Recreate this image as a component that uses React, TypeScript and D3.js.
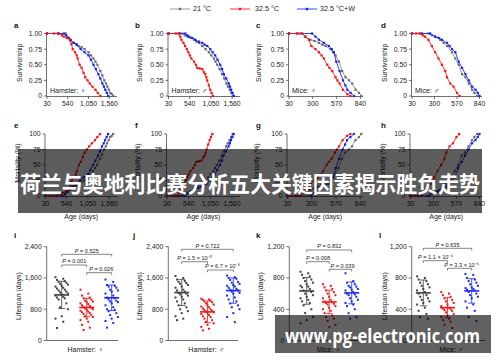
import React from 'react';
import * as d3 from 'd3';

type Pt = [number, number];

const SERIES_NAMES = ['21 °C', '32.5 °C', '32.5 °C+W'];
const LINE_COLORS = ['#8f8f8f', '#ff2020', '#2030ff'];
const MARK_COLORS = ['#6a6a6a', '#ff1010', '#1020ff'];
const DOT_COLORS = ['#404040', '#f01818', '#1a28f0'];

const HAMSTER_DAY_TICKS = [30, 540, 1050, 1560];
const MICE_DAY_TICKS = [30, 300, 570, 840];
const SURV_TICKS = [0, 0.25, 0.5, 0.75, 1];
const MORT_TICKS = [0, 25, 50, 75, 100];
const HAMSTER_LIFE_TICKS = [0, 800, 1600, 2400];
const MICE_LIFE_TICKS = [0, 400, 800, 1200];

const GROUP_LABELS = ['Hamster: ♀', 'Hamster: ♂', 'Mice: ♀', 'Mice: ♂'];

// ---- survival (fraction alive) per panel: [age in days, survivorship]
const hamF_21: Pt[] = [[30,1],[300,1],[492,1],[560,0.93],[613,0.88],[686,0.85],[750,0.83],[807,0.8],[880,0.78],[953,0.75],[1050,0.7],[1110,0.65],[1172,0.6],[1220,0.55],[1269,0.5],[1342,0.4],[1390,0.33],[1439,0.25],[1480,0.2],[1512,0.15],[1550,0.1],[1585,0.05],[1620,0.03],[1657,0]];
const hamF_32: Pt[] = [[30,1],[200,1],[321,1],[400,0.97],[443,0.95],[520,0.93],[589,0.9],[630,0.83],[662,0.75],[720,0.7],[760,0.65],[783,0.6],[832,0.5],[880,0.45],[929,0.37],[970,0.3],[1026,0.25],[1080,0.2],[1147,0.15],[1220,0.1],[1276,0.05],[1342,0]];
const hamF_32W: Pt[] = [[30,1],[300,1],[443,1],[500,0.97],[560,0.93],[613,0.9],[686,0.85],[760,0.82],[856,0.75],[950,0.7],[1050,0.65],[1110,0.58],[1172,0.5],[1230,0.43],[1293,0.35],[1340,0.28],[1390,0.2],[1430,0.15],[1463,0.1],[1500,0.05],[1536,0]];

const hamM_21: Pt[] = [[30,1],[250,1],[365,1],[420,0.97],[484,0.95],[560,0.93],[644,0.9],[700,0.87],[764,0.85],[840,0.8],[921,0.75],[1003,0.7],[1060,0.65],[1122,0.6],[1160,0.55],[1201,0.5],[1260,0.43],[1321,0.35],[1370,0.28],[1423,0.2],[1460,0.15],[1505,0.1],[1540,0.05],[1576,0]];
const hamM_32: Pt[] = [[30,1],[200,1],[286,1],[315,0.95],[341,0.9],[390,0.85],[429,0.8],[470,0.75],[508,0.7],[545,0.65],[580,0.6],[644,0.55],[690,0.5],[723,0.45],[780,0.44],[843,0.43],[880,0.38],[914,0.35],[940,0.3],[962,0.25],[1000,0.17],[1034,0.1],[1065,0.05],[1098,0]];
const hamM_32W: Pt[] = [[30,1],[300,1],[436,1],[480,0.97],[525,0.95],[600,0.93],[675,0.9],[760,0.87],[843,0.85],[900,0.82],[962,0.8],[1034,0.75],[1090,0.7],[1153,0.65],[1210,0.58],[1273,0.5],[1320,0.43],[1361,0.35],[1420,0.28],[1481,0.2],[1510,0.15],[1536,0.1],[1570,0.05],[1600,0]];

const miceF_21: Pt[] = [[30,1],[120,1],[178,1],[216,0.95],[273,0.9],[320,0.88],[369,0.85],[410,0.82],[444,0.8],[501,0.75],[530,0.7],[558,0.65],[597,0.55],[634,0.4],[672,0.3],[711,0.25],[748,0.2],[786,0.1],[825,0.05],[851,0]];
const miceF_32: Pt[] = [[30,1],[120,1],[178,1],[216,0.95],[255,0.9],[284,0.8],[330,0.75],[369,0.7],[400,0.65],[426,0.6],[464,0.5],[490,0.45],[521,0.4],[558,0.3],[580,0.25],[604,0.2],[643,0.1],[692,0.03],[729,0]];
const miceF_32W: Pt[] = [[30,1],[150,1],[292,1],[330,0.95],[369,0.9],[426,0.85],[483,0.8],[515,0.75],[540,0.7],[566,0.55],[604,0.4],[643,0.25],[670,0.17],[692,0.1],[729,0.05],[768,0]];

const miceM_21: Pt[] = [[30,1],[120,1],[227,1],[270,0.97],[308,0.95],[369,0.9],[410,0.85],[450,0.8],[510,0.7],[550,0.6],[590,0.5],[631,0.35],[671,0.3],[711,0.2],[752,0.1],[780,0.05],[812,0]];
const miceM_32: Pt[] = [[30,1],[80,1],[127,1],[160,0.97],[187,0.95],[227,0.9],[268,0.8],[308,0.7],[348,0.6],[389,0.5],[429,0.4],[450,0.3],[489,0.2],[529,0.15],[570,0.05],[602,0]];
const miceM_32W: Pt[] = [[30,1],[150,1],[248,1],[308,0.95],[350,0.93],[389,0.9],[450,0.85],[480,0.8],[510,0.75],[550,0.7],[590,0.55],[631,0.45],[671,0.35],[711,0.25],[752,0.15],[792,0.1],[820,0.05],[840,0]];

// ---- individual lifespans (days)
const lifeI_21 = [1620,1580,1550,1520,1500,1480,1450,1430,1400,1380,1350,1330,1300,1280,1250,1230,1200,1180,1150,1120,1100,1080,1050,950,850,800,620,560,480,320];
const lifeI_32 = [1300,1200,1150,1100,1080,1050,1020,1000,980,950,930,900,880,860,840,820,800,780,760,740,720,700,680,650,620,600,560,520,480,400,330,270];
const lifeI_32W = [1560,1500,1420,1400,1380,1350,1300,1280,1250,1200,1150,1100,1080,1050,1020,1000,980,950,900,850,800,780,750,700,650,600,560,500,450,330];
const lifeJ_21 = [1650,1600,1560,1520,1500,1470,1450,1420,1380,1350,1300,1280,1250,1220,1200,1180,1150,1120,1100,1050,1000,950,900,850,800,750,700,620,560,520];
const lifeJ_32 = [1070,1050,1040,1020,1000,980,950,920,900,870,850,820,800,780,760,740,720,700,680,650,620,600,560,520,480,440,400,350,300,260];
const lifeJ_32W = [1660,1620,1600,1580,1550,1500,1480,1450,1420,1400,1380,1350,1320,1300,1280,1250,1220,1200,1150,1100,1050,1000,950,900,850,800,700,600,470];
const lifeK_21 = [880,860,840,820,800,780,760,740,720,700,690,680,660,640,620,600,580,560,540,520,500,480,450,400,350,300,260,220];
const lifeK_32 = [720,700,680,660,640,620,600,580,560,540,520,500,490,480,470,460,440,420,400,380,350,320,300,280,250,200,170];
const lifeK_32W = [860,760,740,720,700,690,680,660,650,640,620,600,590,580,560,540,520,500,480,460,440,400,350,300,280];
const lifeL_21 = [820,800,780,760,740,720,700,680,660,640,620,600,580,560,540,520,500,480,460,420,380,340,300,280];
const lifeL_32 = [620,600,580,560,540,520,500,480,460,440,420,410,400,390,380,360,340,320,300,280,260,240,200,160];
const lifeL_32W = [850,840,800,780,760,740,720,700,680,670,660,650,640,620,600,580,560,540,500,460,420,380,300,250];

const MEAN_I = [1166, 843, 1093];
const SD_I = [349, 234, 327];
const MEAN_J = [1226, 732, 1277];
const SD_J = [332, 276, 323];
const MEAN_K = [634, 493, 609];
const SD_K = [171, 150, 140];
const MEAN_L = [609, 420, 634];
const SD_L = [165, 128, 156];

const P_I = ['P = 0.525', 'P = 0.001', 'P = 0.026'];
const P_J = ['P = 0.722', 'P = 1.5 × 10⁻⁵', 'P = 6.7 × 10⁻⁸'];
const P_K = ['P = 0.832', 'P = 0.008', 'P = 0.039'];
const P_L = ['P = 0.635', 'P = 1.1 × 10⁻⁴', 'P = 3.3 × 10⁻⁶'];

const TITLE = '荷兰与奥地利比赛分析五大关键因素揭示胜负走势';
const WATERMARK = 'www.pg-electronic.com';

const FONT = '"Liberation Sans", Arial, Helvetica, sans-serif';
const TXT = '#222';
const fmt = d3.format(',');

type SurvProps = {
  x0: number; x1: number; yTop: number; yBot: number; dMax: number;
  ticks: number[]; series: Pt[][]; mort: boolean; letter: string;
  letterX: number; yLabelX: number; inner?: string;
};

function SurvPanel(p: SurvProps) {
  const x = d3.scaleLinear().domain([30, p.dMax]).range([p.x0, p.x1]);
  const y = d3.scaleLinear().domain(p.mort ? [0, 100] : [0, 1]).range([p.yBot, p.yTop]);
  const line = d3.line<Pt>().x(d => x(d[0])).y(d => y(p.mort ? 100 * (1 - d[1]) : d[1]));
  const yt = p.mort ? MORT_TICKS : SURV_TICKS;
  const ylab = (v: number) => (p.mort ? String(v) : v === 0 ? '0' : d3.format('.2f')(v));
  const order = [0, 2, 1];
  return (
    <g fontFamily={FONT}>
      <text x={p.letterX} y={p.yTop - 6} fontSize={8} fontWeight="bold" fill="#111">{p.letter}</text>
      <text transform={`translate(${p.yLabelX},${(p.yTop + p.yBot) / 2 - 2}) rotate(-90)`} textAnchor="middle" fontSize={7} fill={TXT}>
        {p.mort ? 'Mortality (%)' : 'Survivorship'}
      </text>
      <line x1={p.x0 - 0.5} x2={p.x0 - 0.5} y1={p.yTop} y2={p.yBot + 0.5} stroke="#333" strokeWidth={0.7} />
      <line x1={p.x0 - 0.5} x2={p.x1} y1={p.yBot + 0.5} y2={p.yBot + 0.5} stroke="#333" strokeWidth={0.7} />
      {yt.map(v => (
        <g key={v}>
          <line x1={p.x0 - 3} x2={p.x0 - 0.5} y1={y(v)} y2={y(v)} stroke="#333" strokeWidth={0.7} />
          <text x={p.x0 - 5} y={y(v) + 2.4} textAnchor="end" fontSize={6.8} fill={TXT}>{ylab(v)}</text>
        </g>
      ))}
      {p.ticks.map(v => (
        <g key={v}>
          <line x1={x(v)} x2={x(v)} y1={p.yBot + 0.5} y2={p.yBot + 3} stroke="#333" strokeWidth={0.7} />
          <text x={x(v)} y={p.yBot + 9.5} textAnchor="middle" fontSize={6.8} fill={TXT}>{fmt(v)}</text>
        </g>
      ))}
      {order.map(si => (
        <g key={si}>
          <path d={line(p.series[si]) || ''} fill="none" stroke={LINE_COLORS[si]} strokeWidth={0.9} />
          {p.series[si].map((d, i) => (
            <rect key={i} x={x(d[0]) - 1.1} y={y(p.mort ? 100 * (1 - d[1]) : d[1]) - 1.1} width={2.2} height={2.2} fill={MARK_COLORS[si]} />
          ))}
        </g>
      ))}
      {p.inner && (
        <text x={p.x0 + 3} y={p.yBot - 3} fontSize={7} fill={TXT}>{p.inner}</text>
      )}
      {p.mort && (
        <text x={(p.x0 + p.x1) / 2} y={p.yBot + 23} textAnchor="middle" fontSize={7} fill={TXT}>Age (days)</text>
      )}
    </g>
  );
}

type DotProps = {
  x0: number; xEnd: number; gx: [number, number]; yMax: number; ticks: number[];
  groups: number[][]; means: number[]; sds: number[]; pv: string[]; by: number[];
  letter: string; letterX: number; yLabelX: number; label: string;
};

function DotPanel(p: DotProps) {
  const yTop = 246.7, yBot = 340.5;
  const y = d3.scaleLinear().domain([0, p.yMax]).range([yBot, yTop]);
  const gx = d3.scalePoint<number>().domain([0, 1, 2]).range(p.gx);
  const jit = (i: number) => (((i * 5) % 9) - 4) * 1.55;
  const bracket = (a: number, b: number, yy: number, txt: string, k: number, dx = 0) => (
    <g key={k}>
      <path d={`M${gx(a)},${yy + 2.2}V${yy}H${gx(b)}V${yy + 2.2}`} fill="none" stroke="#333" strokeWidth={0.6} />
      <text x={((gx(a) as number) + (gx(b) as number)) / 2 + dx} y={yy - 1.8} textAnchor="middle" fontSize={5.6} fill={TXT}>
        <tspan fontStyle="italic">P</tspan>{txt.slice(1)}
      </text>
    </g>
  );
  return (
    <g fontFamily={FONT}>
      <text x={p.letterX} y={238} fontSize={8} fontWeight="bold" fill="#111">{p.letter}</text>
      <text transform={`translate(${p.yLabelX},${296}) rotate(-90)`} textAnchor="middle" fontSize={7} fill={TXT}>Lifespan (days)</text>
      <line x1={p.x0} x2={p.x0} y1={yTop} y2={yBot} stroke="#333" strokeWidth={0.7} />
      <line x1={p.x0} x2={p.xEnd} y1={yBot} y2={yBot} stroke="#333" strokeWidth={0.7} />
      {p.ticks.map(v => (
        <g key={v}>
          <line x1={p.x0 - 3} x2={p.x0} y1={y(v)} y2={y(v)} stroke="#333" strokeWidth={0.7} />
          <text x={p.x0 - 5} y={y(v) + 2.4} textAnchor="end" fontSize={6.8} fill={TXT}>{fmt(v)}</text>
        </g>
      ))}
      {bracket(0, 2, p.by[0], p.pv[0], 0)}
      {bracket(0, 1, p.by[1], p.pv[1], 1)}
      {bracket(1, 2, p.by[2], p.pv[2], 2, 2)}
      {p.groups.map((vals, gi) => {
        const cx = gx(gi) as number;
        const m = p.means[gi], s = p.sds[gi];
        return (
          <g key={gi}>
            {vals.map((v, i) => (
              <rect key={i} x={cx + jit(i) - 1} y={y(v) - 1} width={2} height={2} fill={DOT_COLORS[gi]} />
            ))}
            <line x1={cx} x2={cx} y1={y(m + s)} y2={y(m - s)} stroke={DOT_COLORS[gi]} strokeWidth={0.8} />
            <line x1={cx - 3.5} x2={cx + 3.5} y1={y(m + s)} y2={y(m + s)} stroke={DOT_COLORS[gi]} strokeWidth={0.8} />
            <line x1={cx - 3.5} x2={cx + 3.5} y1={y(m - s)} y2={y(m - s)} stroke={DOT_COLORS[gi]} strokeWidth={0.8} />
            <line x1={cx - 7.5} x2={cx + 7.5} y1={y(m)} y2={y(m)} stroke={DOT_COLORS[gi]} strokeWidth={1.6} />
          </g>
        );
      })}
      <text x={(p.x0 + p.xEnd) / 2 + 3} y={351.5} textAnchor="middle" fontSize={7} fill={TXT}>{p.label}</text>
    </g>
  );
}

export default function App() {
  const legendX = [170, 230, 297];
  const legendTextX = [193, 255, 320];
  const r1 = { yTop: 33.5, yBot: 96 };
  const r2 = { yTop: 134, yBot: 196 };
  const top = [
    { x0: 47, x1: 117, dMax: 1750, ticks: HAMSTER_DAY_TICKS, series: [hamF_21, hamF_32, hamF_32W], lx: 14, ylx: 22 },
    { x0: 168.5, x1: 240, dMax: 1750, ticks: HAMSTER_DAY_TICKS, series: [hamM_21, hamM_32, hamM_32W], lx: 135, ylx: 142 },
    { x0: 289, x1: 363, dMax: 870, ticks: MICE_DAY_TICKS, series: [miceF_21, miceF_32, miceF_32W], lx: 256, ylx: 261 },
    { x0: 412, x1: 482, dMax: 870, ticks: MICE_DAY_TICKS, series: [miceM_21, miceM_32, miceM_32W], lx: 381, ylx: 387 },
  ];
  const lettersTop = ['a', 'b', 'c', 'd'];
  const lettersMid = ['e', 'f', 'g', 'h'];
  return (
    <svg width={500} height={362} style={{ position: 'absolute', left: 0, top: 0, background: '#fff' }}>
      <rect width={500} height={362} fill="#fff" />
      {/* legend */}
      <g fontFamily={FONT}>
        {SERIES_NAMES.map((n, i) => (
          <g key={n}>
            <line x1={legendX[i]} x2={legendX[i] + 20} y1={9} y2={9} stroke={LINE_COLORS[i]} strokeWidth={0.9} />
            <rect x={legendX[i] + 8.8} y={7.8} width={2.4} height={2.4} fill={MARK_COLORS[i]} />
            <text x={legendTextX[i]} y={11.4} fontSize={7.2} fill={TXT}>{n}</text>
          </g>
        ))}
      </g>
      {top.map((t, i) => (
        <SurvPanel key={'s' + i} x0={t.x0} x1={t.x1} yTop={r1.yTop} yBot={r1.yBot} dMax={t.dMax} ticks={t.ticks}
          series={t.series} mort={false} letter={lettersTop[i]} letterX={t.lx} yLabelX={t.ylx} inner={GROUP_LABELS[i]} />
      ))}
      {top.map((t, i) => (
        <SurvPanel key={'m' + i} x0={t.x0 - 1.5} x1={t.x1} yTop={r2.yTop} yBot={r2.yBot} dMax={t.dMax} ticks={t.ticks}
          series={t.series} mort={true} letter={lettersMid[i]} letterX={t.lx} yLabelX={t.ylx - 2} />
      ))}
      <DotPanel x0={46.7} xEnd={118} gx={[61.7, 111.7]} yMax={2400} ticks={HAMSTER_LIFE_TICKS}
        groups={[lifeI_21, lifeI_32, lifeI_32W]} means={MEAN_I} sds={SD_I} pv={P_I} by={[254.3, 265, 272.7]}
        letter="i" letterX={14} yLabelX={21} label={GROUP_LABELS[0]} />
      <DotPanel x0={168.3} xEnd={238} gx={[181.7, 233.3]} yMax={2400} ticks={HAMSTER_LIFE_TICKS}
        groups={[lifeJ_21, lifeJ_32, lifeJ_32W]} means={MEAN_J} sds={SD_J} pv={P_J} by={[249.3, 261.7, 270]}
        letter="j" letterX={133} yLabelX={142} label={GROUP_LABELS[1]} />
      <DotPanel x0={289.3} xEnd={362} gx={[306.7, 351.7]} yMax={1200} ticks={MICE_LIFE_TICKS}
        groups={[lifeK_21, lifeK_32, lifeK_32W]} means={MEAN_K} sds={SD_K} pv={P_K} by={[250, 261.7, 269.3]}
        letter="k" letterX={256} yLabelX={263} label={GROUP_LABELS[2]} />
      <DotPanel x0={411.7} xEnd={485} gx={[423.3, 471.7]} yMax={1200} ticks={MICE_LIFE_TICKS}
        groups={[lifeL_21, lifeL_32, lifeL_32W]} means={MEAN_L} sds={SD_L} pv={P_L} by={[248.3, 260.7, 268.3]}
        letter="l" letterX={379} yLabelX={387} label={GROUP_LABELS[3]} />
      {/* overlays */}
      <rect x={18} y={149} width={464} height={64} fill="#000" fillOpacity={0.64} />
      <text x={250} y={192} textAnchor="middle" fontSize={22} fontWeight="bold" fill="#fff"
        fontFamily={'"Noto Sans CJK SC", sans-serif'} textLength={460} lengthAdjust="spacingAndGlyphs">{TITLE}</text>
      <rect x={275} y={315} width={216} height={38} fill="#000" fillOpacity={0.62} />
      <text x={285} y={343} fontSize={20} fontWeight="bold" fill="#fff"
        fontFamily={'"Open Sans", "DejaVu Sans", sans-serif'} textLength={195} lengthAdjust="spacingAndGlyphs">{WATERMARK}</text>
    </svg>
  );
}
